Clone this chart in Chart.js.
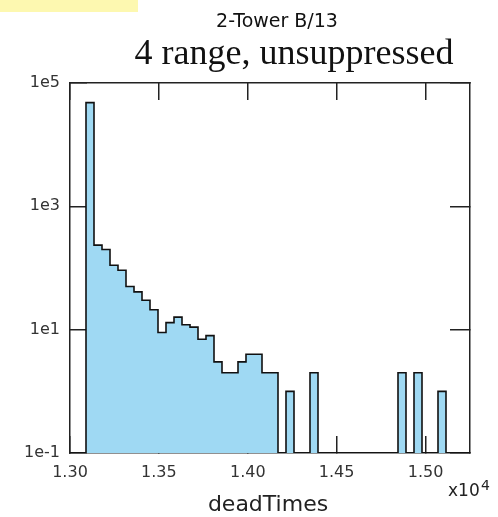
<!DOCTYPE html>
<html>
<head>
<meta charset="utf-8">
<script src="https://cdn.jsdelivr.net/npm/chart.js@4.4.0/dist/chart.umd.min.js"></script>
<style>
  body { margin: 0; background: #fff; }
  #wrap { width: 498px; height: 517px; }
</style>
</head>
<body>
<div id="wrap"><canvas id="chart" width="498" height="517"></canvas></div>
<script>
// Histogram of deadTimes, 50 bins from 13000 to 15250
const binStart = 13000;
const binWidth = 45;
const counts = [
  0, 0, 48000, 235, 200, 111, 92, 50, 41, 30,
  21, 9, 13, 16, 12, 11, 7, 8, 3, 2,
  2, 3, 4, 4, 2, 2, 0, 1, 0, 0,
  2, 0, 0, 0, 0, 0, 0, 0, 0, 0,
  0, 2, 0, 2, 0, 0, 1, 0, 0, 0,
];

// Axis ticks
const xTickValues = [13000, 13500, 14000, 14500, 15000];
const yTickValues = [0.1, 10, 1000, 100000];
const yTickLabels = ['1e-1', '1e1', '1e3', '1e5'];

const xMin = binStart;
const xMax = binStart + counts.length * binWidth;
const yMin = 0.1;
const yMax = 100000;

// Step outline points at bin edges; empty bins drop to the floor of the log axis
const points = counts.map(function (c, k) {
  return { x: binStart + k * binWidth, y: c > 0 ? c : yMin };
});
points.push({ x: xMax, y: yMin });

const axisColor = '#222';
const tickFont = { family: 'DejaVu Sans', size: 16 };

function setXTicks(axis) {
  axis.ticks = xTickValues.map(function (v) { return { value: v }; });
}
function setYTicks(axis) {
  axis.ticks = yTickValues.map(function (v) { return { value: v }; });
}

const textPlugin = {
  id: 'texts',
  beforeDraw: function (chart) {
    const ctx = chart.ctx;
    ctx.save();
    ctx.fillStyle = '#ffffff';
    ctx.fillRect(0, 0, chart.width, chart.height);
    ctx.fillStyle = '#fdf8b0';
    ctx.fillRect(0, 0, 138, 12);
    ctx.restore();
  },
  afterDraw: function (chart) {
    const ctx = chart.ctx;
    ctx.save();
    ctx.fillStyle = '#111';
    ctx.textAlign = 'center';
    ctx.textBaseline = 'alphabetic';
    ctx.font = '19px "DejaVu Sans"';
    ctx.fillText('2-Tower B/13', 277, 27);
    ctx.font = '36px "Liberation Serif"';
    ctx.fillText('4 range, unsuppressed', 294, 64);
    ctx.fillStyle = '#222';
    ctx.font = '22px "DejaVu Sans"';
    ctx.fillText('deadTimes', 268, 511);
    ctx.textAlign = 'left';
    ctx.font = '17px "DejaVu Sans"';
    ctx.fillText('x10', 448, 496);
    ctx.font = '14px "DejaVu Sans"';
    ctx.fillText('4', 481, 490);
    ctx.restore();
  },
};

new Chart(document.getElementById('chart'), {
  type: 'line',
  data: {
    datasets: [
      {
        data: points,
        stepped: 'before',
        fill: 'start',
        backgroundColor: '#9fd9f3',
        borderColor: '#111',
        borderWidth: 1.6,
        pointRadius: 0,
        xAxisID: 'x',
        yAxisID: 'y',
      },
    ],
  },
  options: {
    responsive: false,
    animation: false,
    layout: { padding: 0 },
    plugins: {
      legend: { display: false },
      tooltip: { enabled: false },
    },
    scales: {
      x: {
        type: 'linear',
        position: 'bottom',
        min: xMin,
        max: xMax,
        afterBuildTicks: setXTicks,
        afterFit: function (a) { a.height = 64; },
        grid: { drawOnChartArea: false, tickLength: -17, color: axisColor, lineWidth: 1.5 },
        border: { color: axisColor, width: 1.5 },
        ticks: {
          padding: 27,
          font: tickFont,
          color: '#333',
          maxRotation: 0,
          autoSkip: false,
          callback: function (v) { return (v / 1e4).toFixed(2); },
        },
      },
      xTop: {
        type: 'linear',
        position: 'top',
        min: xMin,
        max: xMax,
        afterBuildTicks: setXTicks,
        afterFit: function (a) { a.height = 83; },
        grid: { drawOnChartArea: false, tickLength: -17, color: axisColor, lineWidth: 1.5 },
        border: { color: axisColor, width: 1.5 },
        ticks: { display: false },
      },
      y: {
        type: 'logarithmic',
        position: 'left',
        min: yMin,
        max: yMax,
        afterBuildTicks: setYTicks,
        afterFit: function (a) { a.width = 70; },
        grid: { drawOnChartArea: false, tickLength: -17, color: axisColor, lineWidth: 1.5 },
        border: { color: axisColor, width: 1.5 },
        ticks: {
          padding: 27,
          font: tickFont,
          color: '#333',
          autoSkip: false,
          callback: function (v, i) { return yTickLabels[i]; },
        },
      },
      yRight: {
        type: 'logarithmic',
        position: 'right',
        min: yMin,
        max: yMax,
        afterBuildTicks: setYTicks,
        afterFit: function (a) { a.width = 28; },
        grid: { drawOnChartArea: false, tickLength: -20, color: axisColor, lineWidth: 1.5 },
        border: { color: axisColor, width: 1.5 },
        ticks: { display: false },
      },
    },
  },
  plugins: [textPlugin],
});
</script>
</body>
</html>
